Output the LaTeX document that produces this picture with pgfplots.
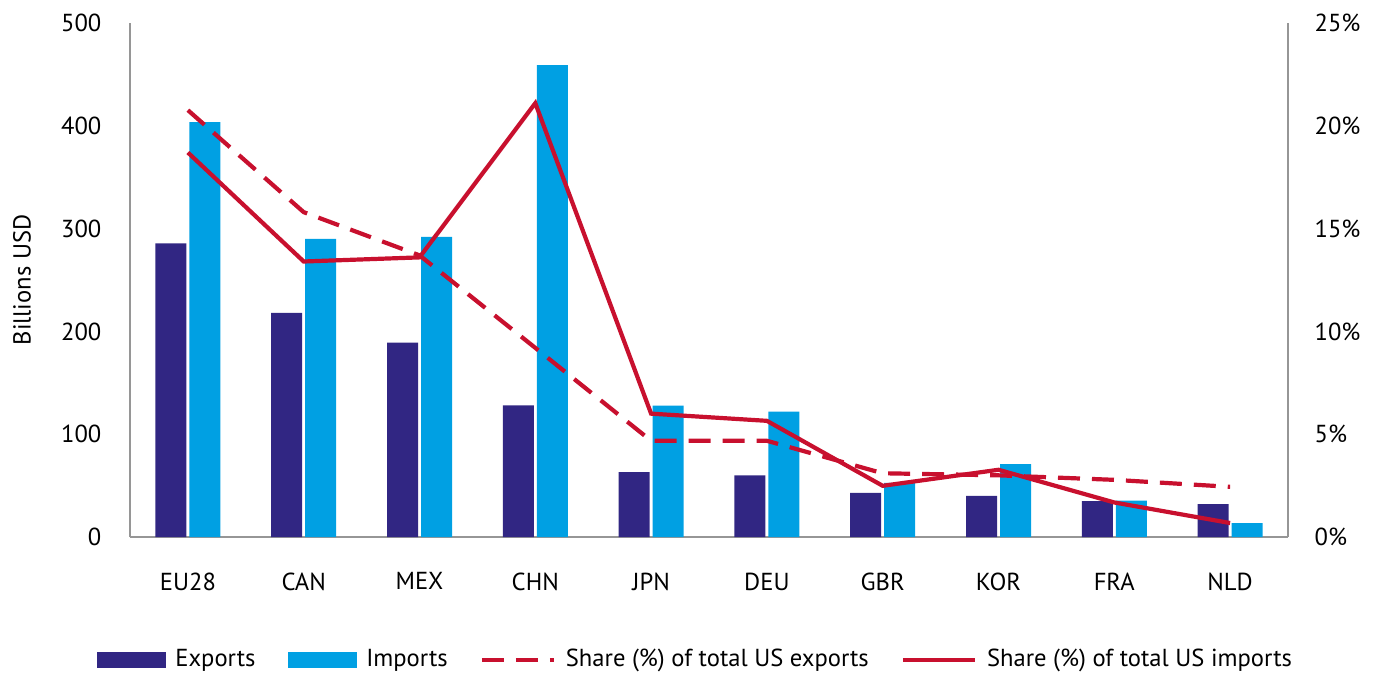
\documentclass[border=0pt]{standalone}
\usepackage{pgfplots}
\pgfplotsset{compat=1.18}
\usepackage{fontspec}
\setmainfont{PT Sans}
\definecolor{exportc}{RGB}{49,38,131}
\definecolor{importc}{RGB}{0,160,227}
\definecolor{redc}{RGB}{200,16,46}
\definecolor{axgray}{RGB}{150,150,150}
\newcommand\chartfont{\fontsize{12.3pt}{14pt}\selectfont}
\begin{document}
\chartfont
\begin{tikzpicture}
\pgfplotsset{
  base/.style={
    scale only axis, width=579pt, height=257pt,
    xmin=-0.5, xmax=9.5,
    major tick length=0pt,
    axis line style={axgray, line width=1pt},
    /pgf/number format/assume math mode=true,
    tick label style={font=\chartfont},
  }
}
\begin{axis}[base,
  ybar=1.5pt, bar width=15.5pt,
  ymin=0, ymax=500, ytick={0,100,...,500},
  axis y line*=left, axis x line*=bottom,
  xtick={0,...,9},
  xticklabels={EU28,CAN,MEX,CHN,JPN,DEU,GBR,KOR,FRA,NLD},
  xticklabel style={yshift=-13.5pt},
  yticklabel style={xshift=-10pt},
  every axis y label/.style={at={([xshift=-54pt]axis description cs:0,0.5)}, rotate=90, anchor=center, font=\chartfont},
  ylabel={Billions USD},
]
\addplot[fill=exportc, draw=none] coordinates {
(0,285.6) (1,218) (2,189) (3,128) (4,63) (5,60) (6,43) (7,40) (8,35) (9,32)};
\addplot[fill=importc, draw=none] coordinates {
(0,403.5) (1,290) (2,292) (3,459) (4,127.7) (5,122) (6,52.6) (7,71) (8,35.5) (9,13.6)};
\end{axis}
\begin{axis}[base,
  ymin=0, ymax=25, ytick={0,5,...,25},
  axis y line*=right, axis x line=none,
  yticklabel={\pgfmathprintnumber{\tick}\%},
  yticklabel style={xshift=9pt, anchor=west},
  legend columns=4,
  legend style={at={([yshift=-61.5pt]axis description cs:0.489,0)}, anchor=center,
    draw=none, font=\chartfont,
    /tikz/every odd column/.append style={column sep=3pt},
    /tikz/every even column/.append style={column sep=14pt}},
  legend image code/.code={\draw[#1] (0pt,0pt) -- (36pt,0pt);},
]
\addlegendimage{legend image code/.code={\fill[exportc] (0pt,-3.75pt) rectangle (34pt,3.75pt);}}
\addlegendentry{Exports}
\addlegendimage{legend image code/.code={\fill[importc] (0pt,-3.75pt) rectangle (34pt,3.75pt);}}
\addlegendentry{Imports}
\addplot[redc, line width=2.1pt, dash pattern=on 11pt off 6pt] coordinates {
(0,20.76) (1,15.8) (2,13.7) (3,9.2) (4,4.68) (5,4.68) (6,3.1) (7,3.0) (8,2.78) (9,2.44)};
\addlegendentry{Share (\%) of total US exports}
\addplot[redc, line width=2.1pt] coordinates {
(0,18.7) (1,13.4) (2,13.6) (3,21.1) (4,6.0) (5,5.65) (6,2.49) (7,3.27) (8,1.68) (9,0.68)};
\addlegendentry{Share (\%) of total US imports}
\end{axis}
\pgfresetboundingbox
\path[use as bounding box] (-65pt,-69pt) rectangle (625.5pt,268.5pt);
\end{tikzpicture}
\end{document}
